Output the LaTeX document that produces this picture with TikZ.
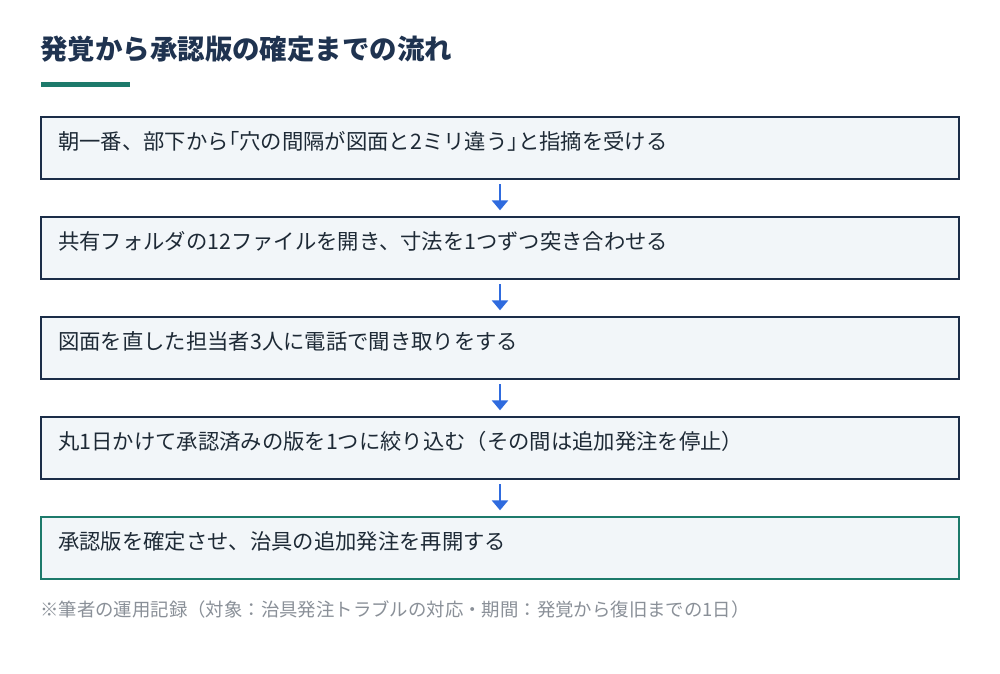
\documentclass[tikz,border=0pt]{standalone}
\usepackage{fontspec}
\setmainfont{Noto Sans CJK JP}
\usetikzlibrary{arrows.meta}
\definecolor{navy}{HTML}{1B2D48}
\definecolor{titlec}{HTML}{1F3350}
\definecolor{teal}{HTML}{1D7A6B}
\definecolor{boxfill}{HTML}{F2F6F9}
\definecolor{arrowc}{HTML}{2F6BDE}
\definecolor{notec}{HTML}{8A9098}
\definecolor{textc}{HTML}{1E2A36}
\newcommand{\halfw}[1]{{\addfontfeatures{RawFeature=+halt}#1}}
\tikzset{
  stepbox/.style={draw=navy, line width=1.5pt, fill=boxfill},
  finalbox/.style={draw=teal, line width=1.5pt, fill=boxfill},
  steptext/.style={anchor=west, inner sep=0pt, text=textc, font=\fontsize{16pt}{19pt}\selectfont},
  flowarrow/.style={draw=arrowc, line width=1.8pt, -{Triangle[length=7.5pt,width=12pt]}}
}
\begin{document}
\begin{tikzpicture}[x=0.75pt,y=-0.75pt]
\useasboundingbox[fill=white] (0,0) rectangle (1000,674);
% title
\node[anchor=west, inner sep=0pt, text=titlec, font=\fontsize{20.6pt}{24pt}\selectfont\bfseries] (title) at (40,49) {発覚から承認版の確定までの流れ};
\fill[teal] (41,82) rectangle (130,87);
% boxes
\draw[stepbox] (41,117) rectangle (959,179);
\coordinate (b1t) at (500,117); \coordinate (b1b) at (500,179);
\draw[stepbox] (41,217) rectangle (959,279);
\coordinate (b2t) at (500,217); \coordinate (b2b) at (500,279);
\draw[stepbox] (41,317) rectangle (959,379);
\coordinate (b3t) at (500,317); \coordinate (b3b) at (500,379);
\draw[stepbox] (41,417) rectangle (959,479);
\coordinate (b4t) at (500,417); \coordinate (b4b) at (500,479);
\draw[finalbox] (41,517) rectangle (959,579);
\coordinate (b5t) at (500,517);
\node[steptext] (t1) at (58,141) {朝一番、部下から\halfw{「}穴の間隔が図面と2ミリ違う\halfw{」}と指摘を受ける};
\node[steptext] (t2) at (58,241) {共有フォルダの12ファイルを開き、寸法を1つずつ突き合わせる};
\node[steptext] (t3) at (58,341) {図面を直した担当者3人に電話で聞き取りをする};
\node[steptext] (t4) at (58,441) {丸1日かけて承認済みの版を1つに絞り込む（その間は追加発注を停止）};
\node[steptext] (t5) at (58,541) {承認版を確定させ、治具の追加発注を再開する};
% arrows
\draw[flowarrow] ([yshift=-4pt]b1b) -- ([yshift=5pt]b2t);
\draw[flowarrow] ([yshift=-4pt]b2b) -- ([yshift=5pt]b3t);
\draw[flowarrow] ([yshift=-4pt]b3b) -- ([yshift=5pt]b4t);
\draw[flowarrow] ([yshift=-4pt]b4b) -- ([yshift=5pt]b5t);
% note
\node[anchor=west, inner sep=0pt, text=notec, font=\fontsize{13.8pt}{16pt}\selectfont] (note) at (40,609) {※筆者の運用記録（対象：治具発注トラブルの対応・期間：発覚から復旧までの1日）};
\end{tikzpicture}
\end{document}
